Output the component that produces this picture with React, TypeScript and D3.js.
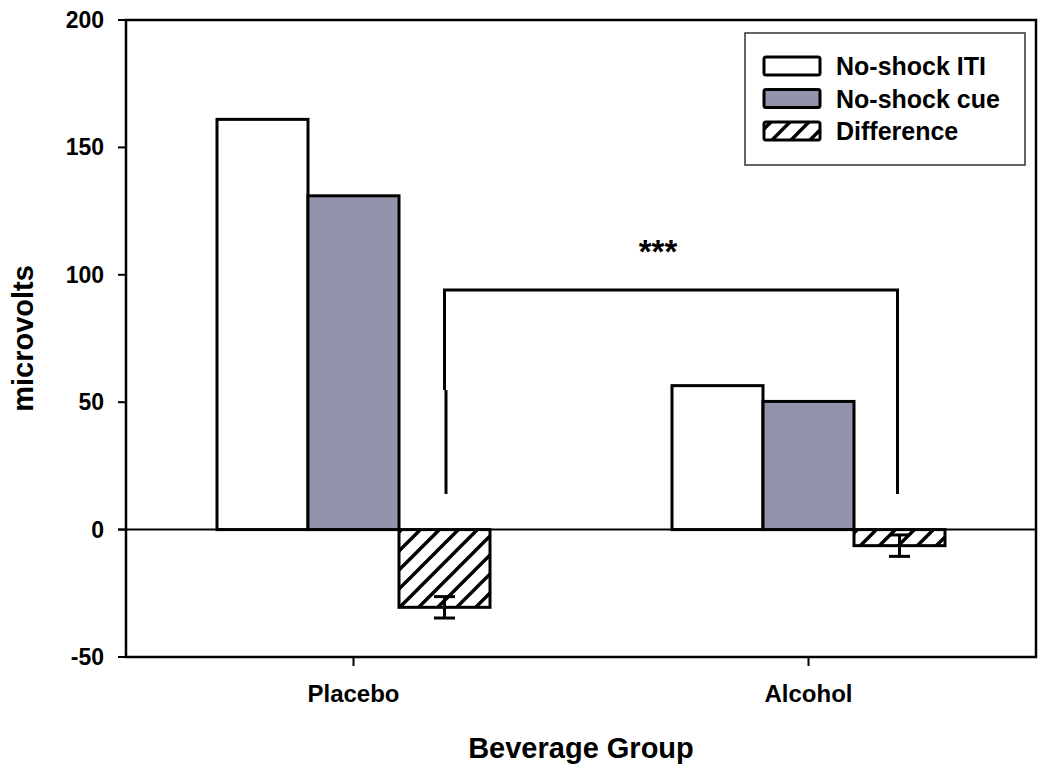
import React from "react";
import * as d3 from "d3";

const groups = ["Placebo", "Alcohol"];
const seriesNames = ["No-shock ITI", "No-shock cue", "Difference"];
const itiValues = [161, 56.5];
const cueValues = [131, 50.3];
const diffValues = [-30.5, -6.3];
const diffErrors = [4.2, 4.2];
const yTicks = [-50, 0, 50, 100, 150, 200];
const bracketTop = 94;
const bracketBottom = 14;
const sigLabel = "***";

const W = 1050;
const H = 771;
const left = 126;
const right = 1036;
const top = 20;
const bottom = 657;
const FONT = "'Liberation Sans', Arial, Helvetica, sans-serif";
const CUE_COLOR = "#9393ab";

export default function App() {
  const y = d3.scaleLinear().domain([-50, 200]).range([bottom, top]);
  const x = d3.scalePoint<string>().domain(groups).range([left, right]).padding(0.5);
  const sub = d3.scaleBand<string>().domain(seriesNames).range([-136.5, 136.5]);
  const bw = sub.bandwidth();
  const valuesBySeries = [itiValues, cueValues, diffValues];
  const fills = ["#ffffff", CUE_COLOR, "url(#hatch)"];

  const diffX = (i: number) => (x(groups[i]) as number) + (sub("Difference") as number) + bw / 2;

  return (
    <svg width={W} height={H} style={{ display: "block", position: "absolute", left: 0, top: 0 }}>
      <defs>
        <pattern id="hatch" patternUnits="userSpaceOnUse" width={19} height={19}>
          <rect width={19} height={19} fill="#fff" />
          <path d="M-5,5 L5,-5 M0,19 L19,0 M14,24 L24,14" stroke="#000" strokeWidth={3.4} />
        </pattern>
      </defs>
      <rect x={0} y={0} width={W} height={H} fill="#fff" />

      {/* bars */}
      {groups.map((g, gi) =>
        seriesNames.map((s, si) => {
          const v = valuesBySeries[si][gi];
          const x0 = (x(g) as number) + (sub(s) as number);
          const y0 = y(Math.max(0, v));
          const h = Math.abs(y(v) - y(0));
          return (
            <rect
              key={g + s}
              x={x0}
              y={y0}
              width={bw}
              height={h}
              fill={fills[si]}
              stroke="#000"
              strokeWidth={3}
            />
          );
        })
      )}

      {/* zero line */}
      <line x1={left - 8} x2={right} y1={y(0)} y2={y(0)} stroke="#000" strokeWidth={2} />

      {/* error bars */}
      {groups.map((g, gi) => {
        const cx = diffX(gi);
        const v = diffValues[gi];
        const e = diffErrors[gi];
        return (
          <g key={"err" + g} stroke="#000" strokeWidth={3}>
            <line x1={cx} x2={cx} y1={y(v + e)} y2={y(v - e)} />
            <line x1={cx - 10.5} x2={cx + 10.5} y1={y(v + e)} y2={y(v + e)} />
            <line x1={cx - 10.5} x2={cx + 10.5} y1={y(v - e)} y2={y(v - e)} />
          </g>
        );
      })}

      {/* frame */}
      <rect x={left} y={top} width={right - left} height={bottom - top} fill="none" stroke="#000" strokeWidth={2.5} />

      {/* y ticks */}
      {yTicks.map((t) => (
        <g key={"yt" + t}>
          <line x1={left - 8} x2={left} y1={y(t)} y2={y(t)} stroke="#000" strokeWidth={2} />
          <text
            x={104}
            y={y(t)}
            dy="0.35em"
            textAnchor="end"
            fontFamily={FONT}
            fontWeight="bold"
            fontSize={23}
            fill="#000"
          >
            {t}
          </text>
        </g>
      ))}

      {/* x ticks */}
      {groups.map((g) => (
        <g key={"xt" + g}>
          <line x1={x(g)} x2={x(g)} y1={bottom} y2={bottom + 9} stroke="#000" strokeWidth={2} />
          <text
            x={x(g)}
            y={702}
            textAnchor="middle"
            fontFamily={FONT}
            fontWeight="bold"
            fontSize={24}
            fill="#000"
          >
            {g}
          </text>
        </g>
      ))}

      {/* bracket */}
      <g stroke="#000" strokeWidth={3} fill="none">
        <path d={`M${diffX(0)},${y(bracketTop) + 100} L${diffX(0)},${y(bracketTop)} L${diffX(1) - 2},${y(bracketTop)} L${diffX(1) - 2},${y(bracketBottom)}`} />
        <line x1={diffX(0) + 1.5} x2={diffX(0) + 1.5} y1={y(bracketTop) + 100} y2={y(bracketBottom)} />
      </g>
      <text
        x={(diffX(0) + diffX(1)) / 2 - 14}
        y={263}
        textAnchor="middle"
        fontFamily={FONT}
        fontWeight="bold"
        fontSize={33}
        fill="#000"
      >
        {sigLabel}
      </text>

      {/* axis titles */}
      <text
        x={(left + right) / 2}
        y={758}
        textAnchor="middle"
        fontFamily={FONT}
        fontWeight="bold"
        fontSize={29}
        fill="#000"
      >
        Beverage Group
      </text>
      <text
        transform={`translate(33,${(top + bottom) / 2}) rotate(-90)`}
        textAnchor="middle"
        fontFamily={FONT}
        fontWeight="bold"
        fontSize={29}
        fill="#000"
      >
        microvolts
      </text>

      {/* legend */}
      <rect x={745} y={33} width={280} height={132} fill="#fff" stroke="#333" strokeWidth={1.5} />
      {seriesNames.map((s, i) => {
        const cy = 66 + i * 32.5;
        return (
          <g key={"lg" + s}>
            <rect x={764} y={cy - 9} width={56} height={18} rx={2} fill={fills[i]} stroke="#000" strokeWidth={3} />
            <text
              x={836}
              y={cy}
              dy="0.36em"
              fontFamily={FONT}
              fontWeight="bold"
              fontSize={25}
              fill="#000"
            >
              {s}
            </text>
          </g>
        );
      })}
    </svg>
  );
}
